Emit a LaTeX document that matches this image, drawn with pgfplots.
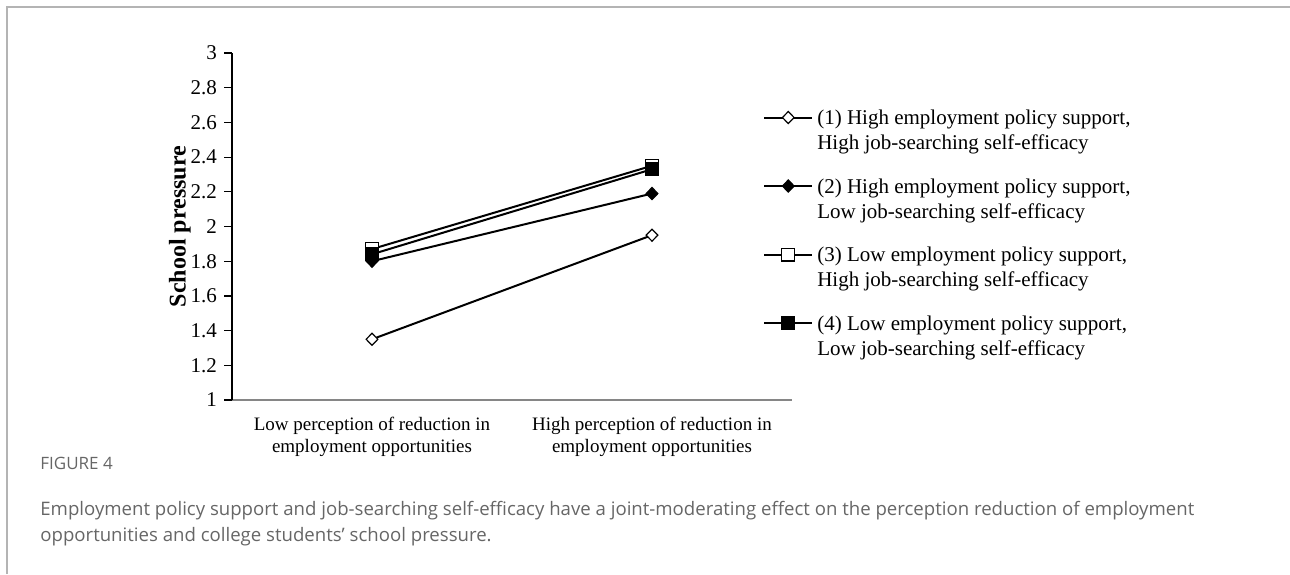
\documentclass[border=0pt]{standalone}
\usepackage{fontspec}
\setmainfont{Liberation Serif}
\newfontfamily\capfont{Open Sans}
\usepackage{pgfplots}
\pgfplotsset{compat=1.18}
\definecolor{framegray}{HTML}{B4B4B4}
\definecolor{capgray}{HTML}{666666}
\definecolor{xaxisgray}{HTML}{868686}
\newcommand{\twoline}[2]{\begin{tabular}[t]{@{}l@{}}#1\\#2\end{tabular}}
\begin{document}
\begin{tikzpicture}
\path[use as bounding box] (0pt,0pt) rectangle (645pt,287pt);
\draw[framegray, line width=1pt] (3.5pt,0pt) -- (3.5pt,283.5pt) -- (645pt,283.5pt);
\begin{axis}[
  at={(116pt,87pt)}, anchor=south west,
  scale only axis, width=280pt, height=173.5pt,
  xmin=-0.5, xmax=1.5, ymin=1, ymax=3,
  axis x line=bottom, axis y line=left,
  axis line style={-},
  x axis line style={draw=xaxisgray, line width=0.8pt},
  y axis line style={draw=black, line width=0.6pt},
  xtick={0,1},
  xticklabels={{Low perception of reduction in\\employment opportunities},{High perception of reduction in\\employment opportunities}},
  xticklabel style={align=center, font=\fontsize{9.5}{11}\selectfont, yshift=-1pt},
  xtick style={draw=none},
  ytick={1,1.2,1.4,1.6,1.8,2,2.2,2.4,2.6,2.8,3},
  yticklabel style={font=\fontsize{10.5}{12}\selectfont},
  /pgf/number format/assume math mode=true,
  tick align=outside, major tick length=4pt,
  ytick style={black, line width=0.6pt},
  ylabel={School pressure},
  ylabel style={font=\fontsize{12}{14}\selectfont\bfseries, at={(axis description cs:-0.093,0.5)}, anchor=center},
  clip=false,
  legend style={at={(axis description cs:0.948,0.857)}, anchor=north west, draw=none, fill=none, inner sep=0pt,
    font=\fontsize{10.5}{12.5}\selectfont, row sep=20pt,
    cells={anchor=base west}},
  legend image code/.code={\draw[mark repeat=2,mark phase=2,#1,yshift=3.5pt] plot coordinates {(0pt,0pt) (12pt,0pt) (24pt,0pt)};},
  every axis plot/.append style={line width=1pt, black},
]
\addplot[mark=diamond*, mark size=3pt, mark options={fill=white, xscale=1.3, line width=0.6pt}] coordinates {(0,1.35) (1,1.95)};
\addlegendentry{\twoline{(1) High employment policy support,}{High job-searching self-efficacy}}
\addplot[mark=diamond*, mark size=3pt, mark options={fill=black, xscale=1.3, line width=0.6pt}] coordinates {(0,1.80) (1,2.19)};
\addlegendentry{\twoline{(2) High employment policy support,}{Low job-searching self-efficacy}}
\addplot[mark=square*, mark size=3.2pt, mark options={fill=white, line width=0.6pt}] coordinates {(0,1.87) (1,2.35)};
\addlegendentry{\twoline{(3) Low employment policy support,}{High job-searching self-efficacy}}
\addplot[mark=square*, mark size=3.2pt, mark options={fill=black, line width=0.6pt}] coordinates {(0,1.84) (1,2.33)};
\addlegendentry{\twoline{(4) Low employment policy support,}{Low job-searching self-efficacy}}
\end{axis}
\node[anchor=base west, inner sep=0pt, text=capgray, font=\capfont\fontsize{8.5}{10}\selectfont] at (20pt,52.5pt) {FIGURE 4};
\node[anchor=base west, inner sep=0pt, text=capgray, font=\capfont\fontsize{9.3}{13}\selectfont] at (20pt,29.5pt) {Employment policy support and job-searching self-efficacy have a joint-moderating effect on the perception reduction of employment};
\node[anchor=base west, inner sep=0pt, text=capgray, font=\capfont\fontsize{9.3}{13}\selectfont] at (20pt,16.5pt) {opportunities and college students’ school pressure.};
\end{tikzpicture}
\end{document}
